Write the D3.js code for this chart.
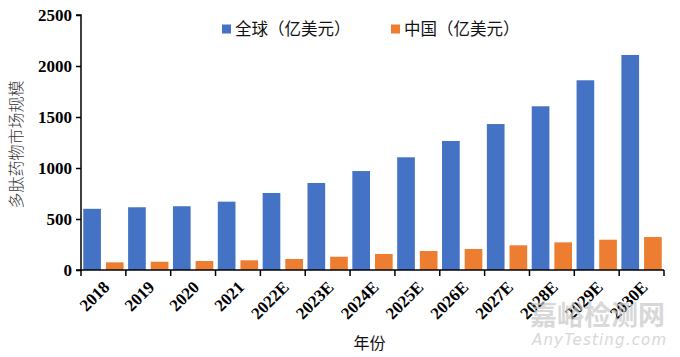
<!DOCTYPE html>
<html><head><meta charset="utf-8">
<script src="https://cdn.jsdelivr.net/npm/d3@7"></script>
<style>html,body{margin:0;padding:0;background:#fff;}svg{display:block;}</style>
</head><body>
<svg id="c" width="680" height="357"></svg>
<script>
const categories = ["2018","2019","2020","2021","2022E","2023E","2024E","2025E","2026E","2027E","2028E","2029E","2030E"];
const seriesNames = ["全球（亿美元）","中国（亿美元）"];
const globalValues = [600,615,625,670,755,853,970,1105,1265,1431,1605,1860,2108];
const chinaValues = [75,81,88,95,108,130,157,186,206,242,271,297,323];
const yTicks = [0,500,1000,1500,2000,2500];
const yTitle = "多肽药物市场规模";
const xTitle = "年份";
const colors = ["#4472C4","#ED7D31"];

(function(){
const svg = d3.select("#c");
const mLeft = 81, mRight = 664, mTop = 15, mBottom = 270;
const x = d3.scaleBand().domain(categories).range([mLeft, mRight]).padding(0);
const xs = d3.scaleBand().domain(seriesNames).range([0, x.bandwidth()]).paddingInner(0.22).paddingOuter(0.1);
const y = d3.scaleLinear().domain([0, 2500]).range([mBottom, mTop]);
const seriesValues = [globalValues, chinaValues];

// bars
seriesNames.forEach((s, si) => {
  svg.append("g").selectAll("rect").data(categories).join("rect")
    .attr("x", c => x(c) + xs(s))
    .attr("width", xs.bandwidth())
    .attr("y", (c, i) => y(seriesValues[si][i]))
    .attr("height", (c, i) => y(0) - y(seriesValues[si][i]))
    .attr("fill", colors[si]);
});

// y axis
const ya = svg.append("g").attr("transform", `translate(${mLeft},0)`)
  .call(d3.axisLeft(y).tickValues(yTicks).tickSize(5).tickPadding(4).tickFormat(d3.format("d")));
ya.select(".domain").attr("stroke", "#000").attr("stroke-width", 1.5).attr("d", `M-5,${mTop}H0V${mBottom}H-5`);
ya.selectAll(".tick line").attr("stroke", "#000").attr("stroke-width", 1.5);
ya.selectAll(".tick text").attr("font-family", "Liberation Serif, serif").attr("font-weight", "bold")
  .attr("font-size", 17).attr("fill", "#000");

// x axis line + boundary ticks
const xa = svg.append("g");
xa.append("line").attr("x1", mLeft).attr("x2", mRight).attr("y1", y(0)).attr("y2", y(0))
  .attr("stroke", "#000").attr("stroke-width", 1.5);
const bounds = categories.map(c => x(c)).concat([x.range()[1]]);
xa.selectAll("line.t").data(bounds).join("line").attr("class", "t")
  .attr("x1", d => d).attr("x2", d => d).attr("y1", y(0)).attr("y2", y(0) + 6)
  .attr("stroke", "#000").attr("stroke-width", 1.5);
xa.selectAll("text").data(categories).join("text")
  .attr("transform", c => `translate(${x(c) + x.bandwidth() / 2 + 3},${y(0) + 14}) rotate(-45)`)
  .attr("text-anchor", "end").attr("dy", "0.35em")
  .attr("font-family", "Liberation Serif, serif").attr("font-weight", "bold").attr("font-size", 17)
  .text(c => c);

// axis titles
svg.append("text").attr("transform", `translate(16,${(mTop + mBottom) / 2 + 2}) rotate(-90)`)
  .attr("text-anchor", "middle").attr("dy", "0.35em")
  .attr("font-family", "Noto Sans CJK SC").attr("font-weight", 300).attr("font-size", 16).attr("fill", "#333")
  .text(yTitle);
svg.append("text").attr("x", (mLeft + mRight) / 2 - 3).attr("y", 343).attr("text-anchor", "middle").attr("dy", "0.35em")
  .attr("font-family", "Noto Sans CJK SC").attr("font-size", 16).attr("fill", "#111")
  .text(xTitle);

// legend
const legX = [222, 391];
seriesNames.forEach((s, i) => {
  const g = svg.append("g").attr("transform", `translate(${legX[i]},29)`);
  g.append("rect").attr("x", 0).attr("y", -4.5).attr("width", 9).attr("height", 9).attr("fill", colors[i]);
  g.append("text").attr("x", 13).attr("y", 0).attr("dy", "0.35em")
    .attr("font-family", "Noto Sans CJK SC").attr("font-size", 16.5).attr("fill", "#111").text(s);
});

// watermark
svg.append("text").attr("x", 530).attr("y", 316).attr("dy", "0.35em").attr("font-family", "Noto Sans CJK SC")
  .attr("font-weight", "bold").attr("font-size", 27).attr("fill", "#c8c8c8").attr("opacity", 0.7).text("嘉峪检测网");
svg.append("text").attr("x", 532).attr("y", 340).attr("dy", "0.35em").attr("font-family", "DejaVu Sans")
  .attr("font-style", "italic").attr("font-size", 15).attr("fill", "#c8c8c8").attr("opacity", 0.7)
  .attr("textLength", 134).text("AnyTesting.com");
})();
</script>
</body></html>
